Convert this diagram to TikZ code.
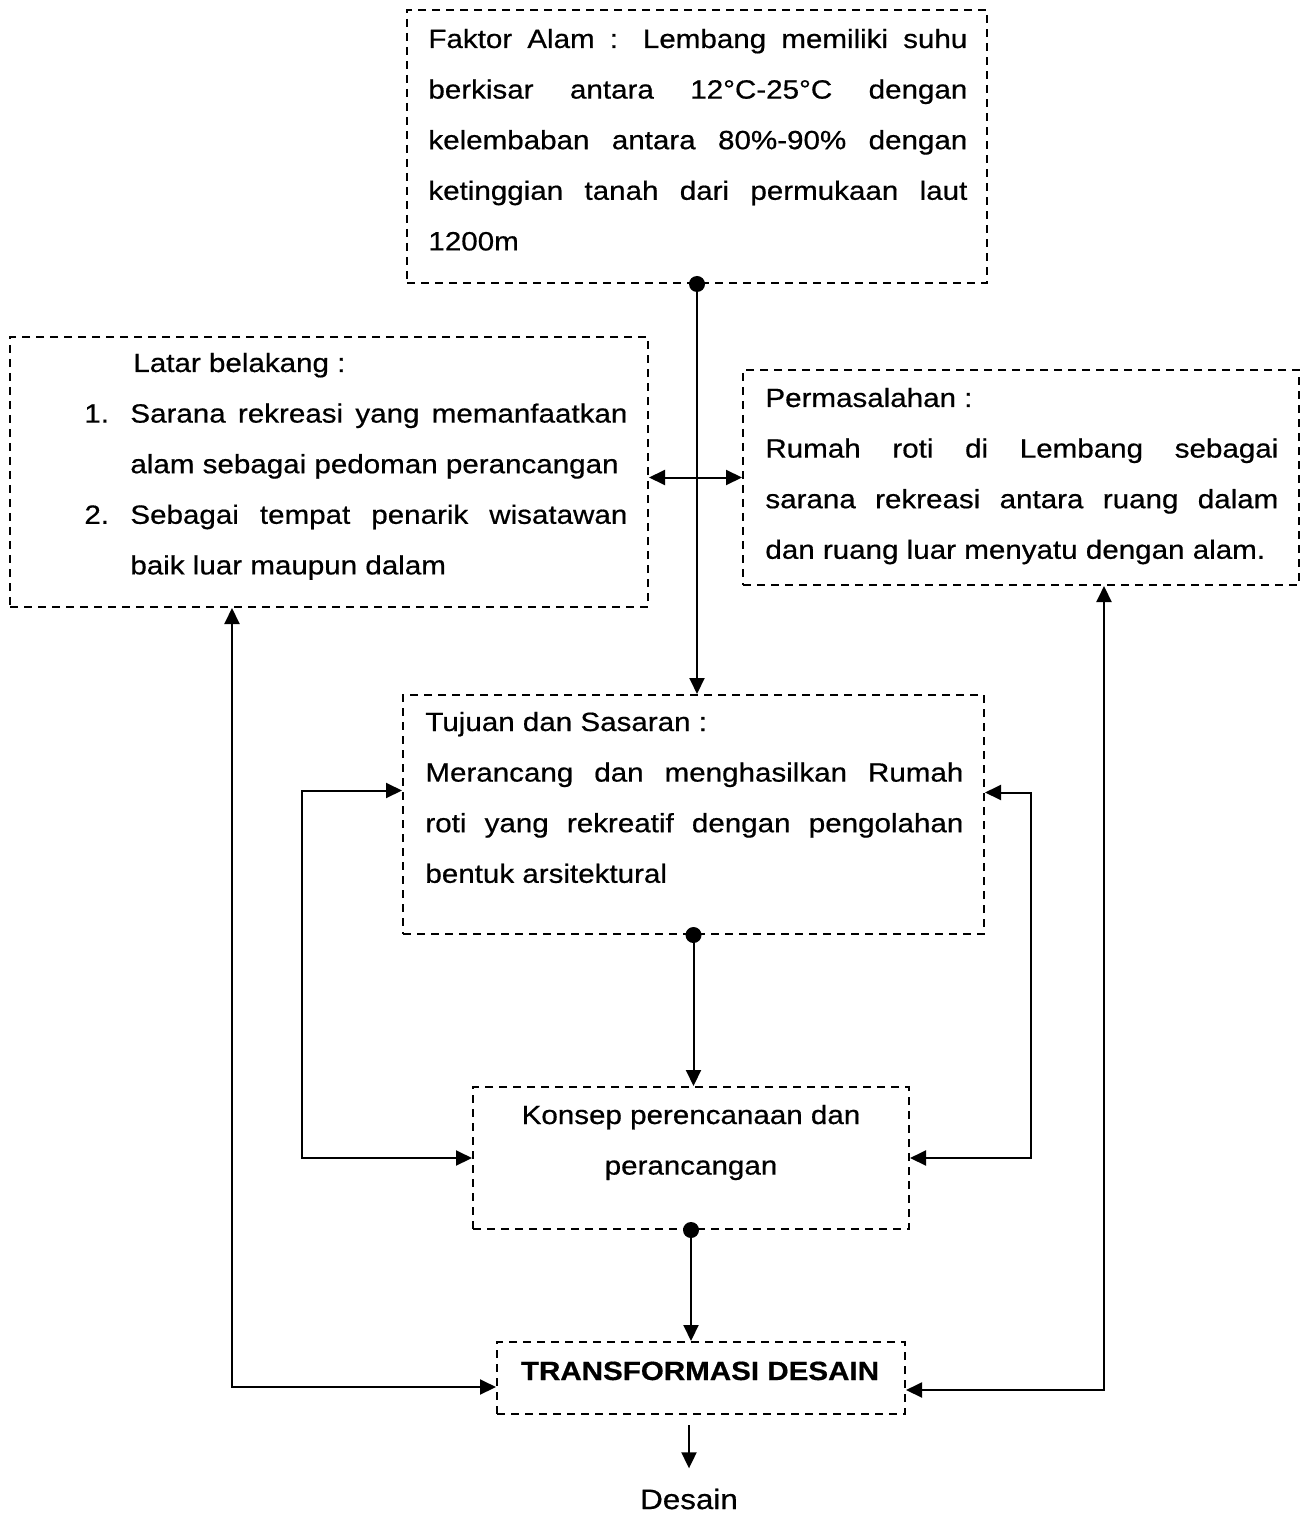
\documentclass[tikz,border=0pt]{standalone}
\usepackage{fontspec}
\setmainfont{Liberation Sans}[FakeStretch=1.12,FakeBold=0.6]
\usetikzlibrary{arrows.meta,calc}
\newcommand\diagfont{\fontsize{13.2}{25.3}\selectfont}
\begin{document}
\begin{tikzpicture}[x=0.5pt,y=-0.5pt,
  >={Triangle[length=8pt,width=7.5pt]},
  conn/.style={line width=1pt},
  box/.style={draw,line width=1pt,dash pattern=on 4pt off 3pt,inner sep=0pt},
  txt/.style={anchor=base west,inner sep=0pt,font=\diagfont},
  dot/.style={fill=black}]
\useasboundingbox (0,0) rectangle (1300,1513);

% boxes
\node[box,minimum width=290pt,minimum height=136.5pt] (faktor) at (697,146.5) {};
\node[box,minimum width=319pt,minimum height=135pt] (latar) at (329,472) {};
\node[box,minimum width=278pt,minimum height=107.5pt] (masalah) at (1021,477.5) {};
\node[box,minimum width=290.5pt,minimum height=119.5pt] (tujuan) at (693.5,814.5) {};
\node[box,minimum width=218pt,minimum height=71pt] (konsep) at (691,1158) {};
\node[box,minimum width=204pt,minimum height=36pt] (trans) at (701,1378) {};

% texts
\node[txt] (faktortext) at (428,48) {\parbox[t]{269.5pt}{\diagfont
\makebox[\linewidth][s]{Faktor Alam : Lembang memiliki suhu}\\
\makebox[\linewidth][s]{berkisar antara 12°C-25°C dengan}\\
\makebox[\linewidth][s]{kelembaban antara 80\%-90\% dengan}\\
\makebox[\linewidth][s]{ketinggian tanah dari permukaan laut}\\
1200m}};

\node[txt] (latartext) at (84,372) {\parbox[t]{271.5pt}{\diagfont
\hspace*{24.5pt}Latar belakang :\\
\makebox[23pt][l]{1.}\makebox[248.5pt][s]{Sarana rekreasi yang memanfaatkan}\\
\hspace*{23pt}alam sebagai pedoman perancangan\\
\makebox[23pt][l]{2.}\makebox[248.5pt][s]{Sebagai tempat penarik wisatawan}\\
\hspace*{23pt}baik luar maupun dalam}};

\node[txt] (masalahtext) at (765,407) {\parbox[t]{256.5pt}{\diagfont
Permasalahan :\\
\makebox[\linewidth][s]{Rumah roti di Lembang sebagai}\\
\makebox[\linewidth][s]{sarana rekreasi antara ruang dalam}\\
dan ruang luar menyatu dengan alam.}};

\node[txt] (tujuantext) at (425,731) {\parbox[t]{269pt}{\diagfont
Tujuan dan Sasaran :\\
\makebox[\linewidth][s]{Merancang dan menghasilkan Rumah}\\
\makebox[\linewidth][s]{roti yang rekreatif dengan pengolahan}\\
bentuk arsitektural}};

\node[txt,anchor=base] (konseptext) at (691,1124) {\parbox[t]{210pt}{\diagfont\centering
Konsep perencanaan dan\\
perancangan\par}};

\node[txt,anchor=base] (transtext) at (700,1380) {\diagfont\bfseries TRANSFORMASI DESAIN};

\node[txt,anchor=base,font=\fontsize{14}{16}\selectfont] (desain) at (689,1509) {Desain};

% connectors
\draw[conn,->] (faktor.south) -- (faktor.south |- tujuan.north);
\fill[dot] (faktor.south) circle (4pt);

\draw[conn,<->] (latar.east |- masalah.west) -- (masalah.west);

\draw[conn,->] (tujuan.south) -- (tujuan.south |- konsep.north);
\fill[dot] (tujuan.south) circle (4pt);

\draw[conn,->] (konsep.south) -- (konsep.south |- trans.north);
\fill[dot] (konsep.south) circle (4pt);

\draw[conn,->] ($(trans.south -| desain.north)+(0,-5pt)$) -- ($(desain.north)+(0,10pt)$);

\draw[conn,<->] ([yshift=12pt]tujuan.west) -- ++(-50pt,0) |- (konsep.west);
\draw[conn,<->] ([yshift=11pt]tujuan.east) -- ++(23pt,0) |- (konsep.east);

\draw[conn,<->] ([xshift=-48.5pt]latar.south) |- ([yshift=-4.5pt]trans.west);
\draw[conn,<->] ([xshift=41.5pt]masalah.south) |- ([yshift=-6pt]trans.east);
\end{tikzpicture}
\end{document}
